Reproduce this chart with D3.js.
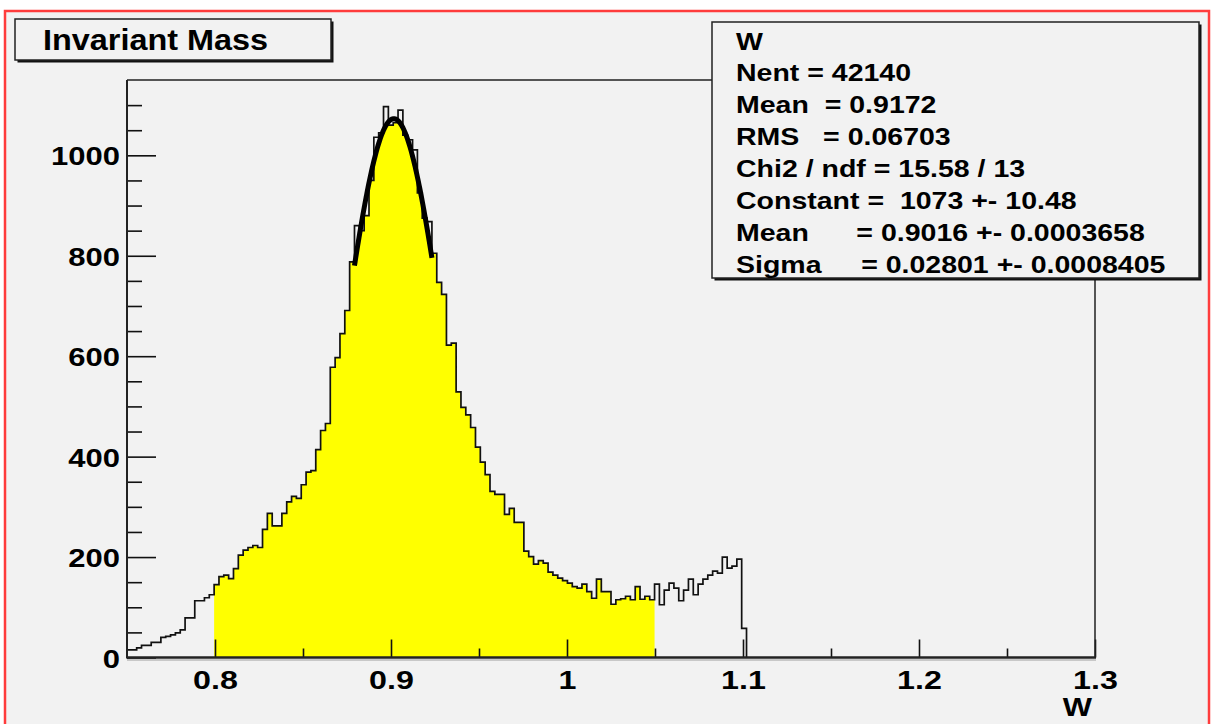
<!DOCTYPE html>
<html>
<head>
<meta charset="utf-8">
<script src="https://cdn.jsdelivr.net/npm/d3@7"></script>
<style>
  body { margin: 0; background: #fff; }
  text { font-family: "Liberation Sans", Arial, sans-serif; font-weight: bold; fill: #000; white-space: pre; }
</style>
</head>
<body>
<svg width="1212" height="724"></svg>
<script>
// W histogram: 200 bins on [0.75, 1.3], only the first 128 bins have entries
var binLow = 0.75, binHigh = 1.3, binWidth = 0.00275;
var counts = [
  15, 15, 19, 24, 24, 30, 30, 40, 42, 45, 49, 55, 79, 79, 113, 113, 119, 125,
  145, 161, 164, 157, 177, 204, 214, 219, 223, 219, 255, 287, 262, 262, 287, 310,
  321, 317, 344, 369, 372, 414, 452, 466, 578, 597, 645, 691, 788, 860, 850, 880,
  950, 1036, 1045, 1097, 1060, 1065, 1090, 1040, 1031, 1011, 925, 875, 868, 805,
  747, 723, 622, 626, 529, 498, 483, 458, 419, 389, 364, 331, 325, 325, 285, 297,
  269, 269, 212, 201, 186, 193, 188, 170, 164, 158, 153, 148, 141, 138, 146, 131,
  118, 156, 131, 131, 106, 115, 117, 122, 115, 141, 116, 122, 115, 146, 105, 134,
  148, 138, 113, 134, 156, 125, 146, 156, 164, 172, 168, 200, 178, 182, 196, 58
];
var fillRange = [0.8, 1.05];          // yellow part of the histogram
var xTickLabels = ["0.8", "0.9", "1", "1.1", "1.2", "1.3"];
var xMinorTicks = [0.85, 0.95, 1.05, 1.15, 1.25];
var yTickLabels = ["0", "200", "400", "600", "800", "1000"];
var yMinorTicks = [50, 100, 150, 250, 300, 350, 450, 500, 550, 650, 700, 750, 850, 900, 950, 1050, 1100];
var fitPars = [1073, 0.9016, 0.02801];  // constant, mean, sigma
var fitRange = [0.87925, 0.92325];
var titleText = "Invariant Mass";
var axisTitle = "W";
var statLines = [
  "W",
  "Nent = 42140",
  "Mean  = 0.9172",
  "RMS   = 0.06703",
  "Chi2 / ndf = 15.58 / 13",
  "Constant =  1073 +- 10.48",
  "Mean      = 0.9016 +- 0.0003658",
  "Sigma     = 0.02801 +- 0.0008405"
];

var svg = d3.select("svg");
var sx = 1.24;   // text in the picture is stretched sideways

var x = d3.scaleLinear().domain([binLow, binHigh]).range([127, 1095]);
var y = d3.scaleLinear().domain([0, 1150]).range([657.5, 80]);

// canvas with red border
svg.append("rect").attr("x", 5).attr("y", 11).attr("width", 1204).attr("height", 760)
   .attr("fill", "#f2f2f2").attr("stroke", "#ff3c3c").attr("stroke-width", 2.5);

var bins = counts.map(function(c, i) {
  return { lo: binLow + i * binWidth, hi: binLow + (i + 1) * binWidth, v: c };
});

function gaus(w) {
  var t = (w - fitPars[1]) / fitPars[2];
  return fitPars[0] * Math.exp(-0.5 * t * t);
}
var curvePts = d3.range(0, 121).map(function(i) {
  var w = fitRange[0] + (fitRange[1] - fitRange[0]) * i / 120;
  return [x(w), y(gaus(w))];
});

// clip: the yellow stays under the fit curve inside the fit range
var clipPts = [[x(binLow), y(0)], [x(binLow), 0], [x(fitRange[0]), 0]]
  .concat(curvePts)
  .concat([[x(fitRange[1]), 0], [x(binHigh), 0], [x(binHigh), y(0)]]);
svg.append("clipPath").attr("id", "fitclip")
   .append("path").attr("d", "M" + clipPts.join("L") + "Z");

var fillBins = bins.filter(function(b) {
  var c = (b.lo + b.hi) / 2;
  return c >= fillRange[0] && c <= fillRange[1];
});
var fillPts = fillBins.map(function(b) { return { w: b.lo, v: b.v }; });
fillPts.push({ w: fillBins[fillBins.length - 1].hi, v: fillBins[fillBins.length - 1].v });

var area = d3.area().curve(d3.curveStepAfter)
  .x(function(d) { return x(d.w); })
  .y0(y(0))
  .y1(function(d) { return y(d.v); });

svg.append("path").attr("d", area(fillPts))
   .attr("fill", "#ffff00").attr("clip-path", "url(#fitclip)");

// x ticks (inside the frame)
var gx = svg.append("g").attr("transform", "translate(0," + y(0) + ")");
gx.call(d3.axisBottom(x).tickValues(xMinorTicks).tickSize(-9).tickSizeOuter(0).tickFormat(""));
gx.call(function(g) { g.select(".domain").remove(); });
var gx2 = svg.append("g").attr("transform", "translate(0," + y(0) + ")");
gx2.call(d3.axisBottom(x).tickValues(xTickLabels.map(Number)).tickSize(-18).tickSizeOuter(0)
  .tickPadding(12).tickFormat(function(d, i) { return xTickLabels[i]; }));
gx2.select(".domain").remove();
svg.selectAll("g.tick line").attr("stroke", "#111").attr("stroke-width", 1.6);
gx2.selectAll("text").attr("font-size", null).attr("font-family", null)
   .style("font-size", "26px").attr("dy", "0.74em").attr("transform", "scale(" + sx + ",1)");

// y ticks
var gy = svg.append("g").attr("transform", "translate(" + x(binLow) + ",0)");
gy.call(d3.axisLeft(y).tickValues(yMinorTicks).tickSize(-15).tickSizeOuter(0).tickFormat(""));
gy.select(".domain").remove();
var gy2 = svg.append("g").attr("transform", "translate(" + x(binLow) + ",0)");
gy2.call(d3.axisLeft(y).tickValues(yTickLabels.map(Number)).tickSize(-29).tickSizeOuter(0)
  .tickPadding(8).tickFormat(function(d, i) { return yTickLabels[i]; }));
gy2.select(".domain").remove();
svg.selectAll("g.tick line").attr("stroke", "#111").attr("stroke-width", 1.6);
gy2.selectAll("text").attr("font-size", null).attr("font-family", null)
   .style("font-size", "25px").attr("dy", "0.38em")
   .attr("x", -7 / sx).attr("transform", "scale(" + sx + ",1)");

// histogram outline
var linePts = [{ w: bins[0].lo, v: 0 }].concat(bins.map(function(b) { return { w: b.lo, v: b.v }; }));
linePts.push({ w: bins[bins.length - 1].hi, v: 0 });
var line = d3.line().curve(d3.curveStepAfter)
  .x(function(d) { return x(d.w); })
  .y(function(d) { return y(d.v); });
svg.append("path").attr("d", line(linePts))
   .attr("fill", "none").attr("stroke", "#111").attr("stroke-width", 1.7);

// fit curve
svg.append("path").attr("d", "M" + curvePts.join("L"))
   .attr("fill", "none").attr("stroke", "#000").attr("stroke-width", 5).attr("stroke-linejoin", "round");

// frame
svg.append("path")
   .attr("d", "M" + x(binLow) + "," + y(1150) + "H" + x(binHigh) + "V" + y(0))
   .attr("fill", "none").attr("stroke", "#222").attr("stroke-width", 1.5);
svg.append("line").attr("x1", x(binLow)).attr("x2", x(binHigh) + 1).attr("y1", y(0) + 2.5).attr("y2", y(0) + 2.5)
   .attr("stroke", "#c8c8c8").attr("stroke-width", 2);
svg.append("line").attr("x1", x(binLow)).attr("x2", x(binHigh) + 1).attr("y1", y(0)).attr("y2", y(0))
   .attr("stroke", "#222").attr("stroke-width", 2.5);
svg.append("line").attr("x1", x(binLow)).attr("x2", x(binLow)).attr("y1", y(1150)).attr("y2", y(0) + 1)
   .attr("stroke", "#222").attr("stroke-width", 2);

// axis title, just under the last tick label
svg.append("text").attr("transform", "translate(1092,716) scale(" + sx + ",1)")
   .attr("text-anchor", "end").style("font-size", "25px").text(axisTitle);

// boxes with shadow
function box(x0, y0, w, h) {
  svg.append("rect").attr("x", x0 + 2.5).attr("y", y0 + 2.5).attr("width", w).attr("height", h).attr("fill", "#111");
  svg.append("rect").attr("x", x0).attr("y", y0).attr("width", w).attr("height", h)
     .attr("fill", "#f2f2f2").attr("stroke", "#222").attr("stroke-width", 1.5);
}

box(15, 19, 316, 41);
svg.append("text").attr("x", 43).attr("y", 50).style("font-size", "29px")
   .attr("textLength", 225).attr("lengthAdjust", "spacingAndGlyphs").text(titleText);

box(712, 22, 487, 256);
svg.selectAll(".stat").data(statLines).enter().append("text")
   .attr("class", "stat")
   .attr("transform", function(d, i) { return "translate(736," + (49.5 + i * 31.9) + ") scale(" + sx + ",1)"; })
   .style("font-size", "23px")
   .text(function(d) { return d; });
</script>
</body>
</html>
